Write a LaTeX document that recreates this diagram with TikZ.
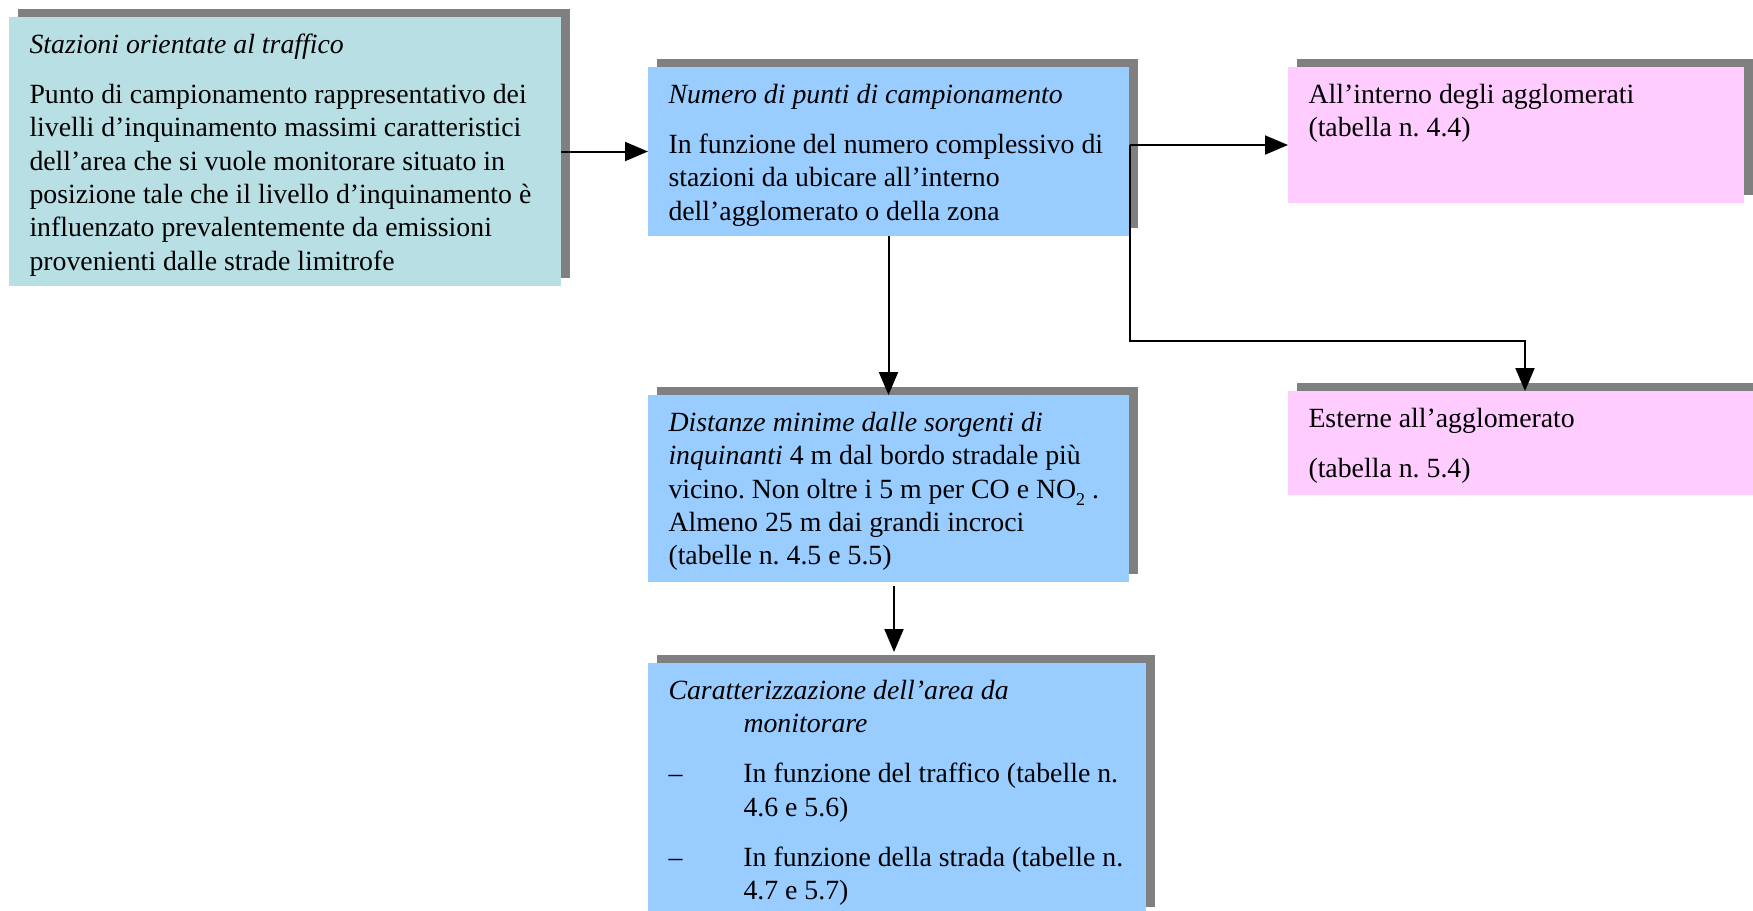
\documentclass[tikz,border=0pt]{standalone}
\usepackage{fontspec}
\setmainfont{Liberation Serif}
\usetikzlibrary{arrows.meta,shadows,calc}

\definecolor{boxcyan}{RGB}{184,223,228}
\definecolor{boxblue}{RGB}{153,204,255}
\definecolor{boxpink}{RGB}{255,204,255}
\definecolor{shadowgray}{RGB}{128,128,128}

% text block of a box: width, height, content (top aligned)
\newcommand{\boxtxt}[3]{\parbox[c][#2][t]{#1}{\raggedright\frenchspacing\vspace*{6.6pt}\strut #3}}
\newcommand{\indentbox}{\hspace*{37.5pt}}
\newcommand{\lowsub}[1]{\raisebox{-3.5pt}{\fontsize{9}{10}\selectfont #1}}

\tikzset{
  panel/.style={anchor=north west, inner xsep=10.25pt, inner ysep=0pt, outer sep=0pt,
    font=\fontsize{13.9}{16.65}\selectfont,
    general shadow={shadow xshift=4.25pt, shadow yshift=4pt, fill=shadowgray}},
  arr/.style={line width=1pt, -{Triangle[length=11.5pt,width=9.5pt]}}
}

\begin{document}
\begin{tikzpicture}[x=0.5pt,y=-0.5pt]
\useasboundingbox (0,0) rectangle (1753,911);

% boxes
\node[panel, fill=boxcyan] (traffico) at (9,17) {\boxtxt{255.5pt}{134.5pt}{%
\textit{Stazioni orientate al traffico}\\[8.35pt]
Punto di campionamento rappresentativo dei\\
livelli d’inquinamento massimi caratteristici\\
dell’area che si vuole monitorare situato in\\
posizione tale che il livello d’inquinamento è\\
influenzato prevalentemente da emissioni\\
provenienti dalle strade limitrofe}};

\node[panel, fill=boxblue] (numero) at (648,67) {\boxtxt{220pt}{84.5pt}{%
\textit{Numero di punti di campionamento}\\[8.35pt]
In funzione del numero complessivo di\\
stazioni da ubicare all’interno\\
dell’agglomerato o della zona}};

\node[panel, fill=boxpink] (interno) at (1288,67) {\boxtxt{207.5pt}{68pt}{%
All’interno degli agglomerati\\
(tabella n. 4.4)}};

\node[panel, fill=boxpink] (esterne) at (1288,391) {\boxtxt{215.5pt}{52pt}{%
Esterne all’agglomerato\\[8.35pt]
(tabella n. 5.4)}};

\node[panel, fill=boxblue] (distanze) at (648,395) {\boxtxt{220pt}{93.5pt}{%
\textit{Distanze minime dalle sorgenti di}\\
\textit{inquinanti} 4 m dal bordo stradale più\\
vicino. Non oltre i 5 m per CO e NO\lowsub{2} .\\
Almeno 25 m dai grandi incroci\\
(tabelle n. 4.5 e 5.5)}};

\node[panel, fill=boxblue] (caratt) at (648,663) {\boxtxt{228.5pt}{126pt}{%
\textit{Caratterizzazione dell’area da}\\
\indentbox\textit{monitorare}\\[8.35pt]
\makebox[37.5pt][l]{–}In funzione del traffico (tabelle n.\\
\indentbox 4.6 e 5.6)\\[8.35pt]
\makebox[37.5pt][l]{–}In funzione della strada (tabelle n.\\
\indentbox 4.7 e 5.7)}};

% connectors
\draw[arr] (traffico.east) -- (numero.west);
\draw[arr] (numero.south) -- (distanze.north);

\coordinate (d5) at ([xshift=2.75pt,yshift=-2pt]distanze.south);
\coordinate (t6) at ([yshift=5.5pt]caratt.north);
\draw[arr] (d5) -- (d5 |- t6);

\coordinate (split) at ([xshift=0.5pt,yshift=3.25pt]numero.east);
\coordinate (in4) at ([xshift=118.5pt]esterne.north west);
\draw[arr] (split) -- (split -| interno.west);
\draw[arr] (split) -- ++(0,-98pt) -| (in4);
\end{tikzpicture}
\end{document}
